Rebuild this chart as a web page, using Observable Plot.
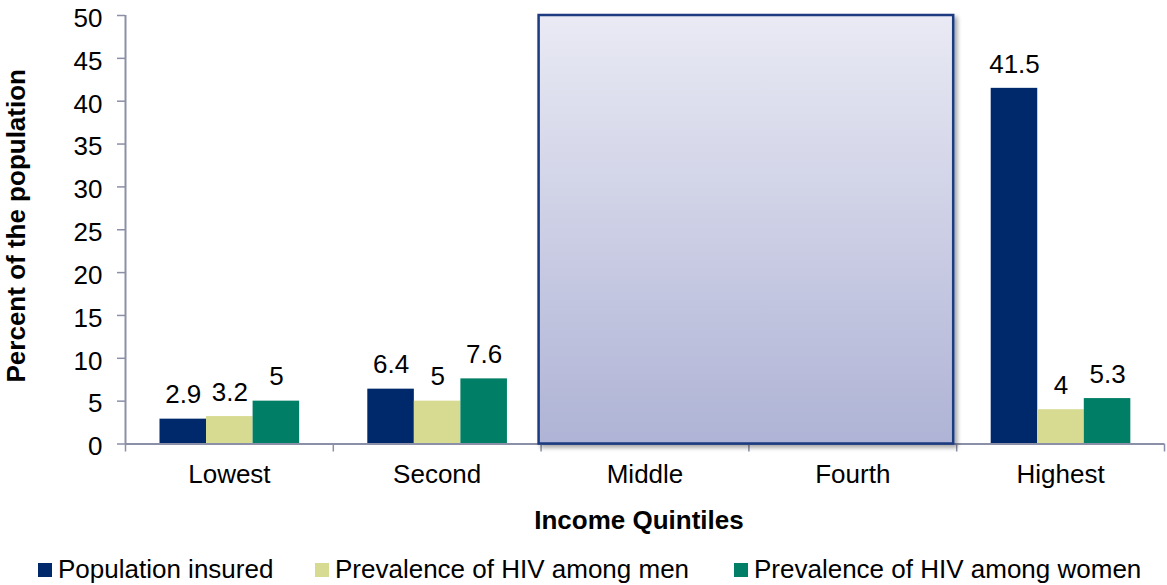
<!DOCTYPE html>
<html><head><meta charset="utf-8">
<script src="https://cdn.jsdelivr.net/npm/d3@7"></script>
<script src="https://cdn.jsdelivr.net/npm/@observablehq/plot@0.6"></script>
<style>
body{margin:0;background:#fff;font-family:"Liberation Sans",Arial,sans-serif;}
#chart{position:relative;width:1167px;height:585px;overflow:hidden;}
#chart svg{display:block;}
.legend{position:absolute;top:540px;left:0;width:1167px;height:45px;}
.item{position:absolute;top:15px;display:flex;align-items:center;font-size:26px;color:#000;white-space:nowrap;line-height:29px;}
.sw{width:14px;height:14px;margin-right:6px;flex:none;}
</style></head><body><div id="chart"></div>
<script>
// ---- data ----
const categories = ["Lowest", "Second", "Middle", "Fourth", "Highest"];
const seriesNames = ["Population insured", "Prevalence of HIV among men", "Prevalence of HIV among women"];
const populationInsured = [2.9, 6.4, null, null, 41.5];
const hivAmongMen = [3.2, 5, null, null, 4];
const hivAmongWomen = [5, 7.6, null, null, 5.3];
const seriesColors = ["#00296b", "#d6db91", "#007e66"];
const yTicks = [0, 5, 10, 15, 20, 25, 30, 35, 40, 45, 50];
const noDataCategories = ["Middle", "Fourth"];
const xTitle = "Income Quintiles";
const yTitle = "Percent of the population";

// ---- table ----
const seriesValues = [populationInsured, hivAmongMen, hivAmongWomen];
const groupStart = 0.166, barW = 0.224;
const rows = [];
categories.forEach((c, ci) => {
  seriesValues.forEach((vals, si) => {
    const v = vals[ci];
    if (v == null) return;
    const x1 = ci + groupStart + si * barW;
    rows.push({category: c, series: seriesNames[si], value: v, label: String(v), x1, x2: x1 + barW, xc: x1 + barW / 2});
  });
});
const yMax = yTicks[yTicks.length - 1];
const boxSpan = [{from: categories.indexOf(noDataCategories[0]), to: categories.indexOf(noDataCategories[noDataCategories.length - 1]) + 1}];

const axisColor = "#8b8fa7";

const gradientDefs = () => {
  const defs = d3.create("svg:defs");
  const g = defs.append("linearGradient").attr("id", "boxGrad")
    .attr("x1", 0).attr("y1", 0).attr("x2", 0).attr("y2", 1);
  g.append("stop").attr("offset", "0%").attr("stop-color", "#e9eaf4");
  g.append("stop").attr("offset", "100%").attr("stop-color", "#afb3d5");
  const f = defs.append("filter").attr("id", "boxShadow")
    .attr("x", "-5%").attr("y", "-5%").attr("width", "115%").attr("height", "115%");
  f.append("feDropShadow").attr("dx", 3).attr("dy", 3).attr("stdDeviation", 2)
    .attr("flood-color", "#000").attr("flood-opacity", 0.35);
  return defs.node();
};

const plot = Plot.plot({
  width: 1167,
  height: 540,
  marginTop: 15,
  marginBottom: 96.5,
  marginLeft: 125,
  marginRight: 3,
  style: {fontFamily: "'Liberation Sans', Arial, sans-serif", fontSize: "26px", color: "#000", background: "#fff"},
  x: {domain: [0, categories.length]},
  y: {domain: [0, yMax]},
  color: {domain: seriesNames, range: seriesColors},
  marks: [
    gradientDefs,
    Plot.rect(rows, {x1: "x1", x2: "x2", y1: 0, y2: "value", fill: "series"}),
    Plot.text(rows, {x: "xc", y: "value", text: "label", dy: -24, fontSize: 26, fill: "#000"}),
    Plot.ruleX([0], {y1: 0, y2: yMax, stroke: axisColor, strokeWidth: 2}),
    Plot.ruleY([0], {stroke: axisColor, strokeWidth: 2}),
    Plot.axisY({ticks: yTicks, tickSize: 8, stroke: axisColor, strokeWidth: 1.5, fill: "none", label: null}),
    Plot.axisY({ticks: yTicks, tickSize: 8, tickPadding: 15, stroke: "none", fill: "#000", dy: 3, fontSize: 26, label: null}),
    Plot.axisX({ticks: d3.range(categories.length + 1), tickSize: 8, stroke: axisColor, strokeWidth: 1.5, fill: "none", label: null, tickFormat: () => ""}),
    Plot.axisX({ticks: categories.map((c, i) => i + 0.5), tickSize: 0, tickPadding: 21, stroke: "none", fill: "#000", fontSize: 26, label: null, tickFormat: (d) => categories[Math.floor(d)]}),
    Plot.rect(boxSpan, {x1: "from", x2: "to", y1: 0, y2: yMax, fill: "url(#boxGrad)", stroke: "#1a3b80", strokeWidth: 2.5, insetLeft: -2, insetRight: 3}),
    Plot.text([yTitle], {frameAnchor: "left", textAnchor: "middle", lineAnchor: "middle", rotate: -90, dx: -108.5, dy: -4, fontWeight: "bold", fontSize: 26, fill: "#000"}),
    Plot.text([xTitle], {frameAnchor: "bottom", textAnchor: "middle", lineAnchor: "middle", dx: -6, dy: 77, fontWeight: "bold", fontSize: 26, fill: "#000"})
  ]
});

d3.select(plot).selectAll("rect").filter(function() { return this.getAttribute("fill") === "url(#boxGrad)"; })
  .attr("filter", "url(#boxShadow)");
d3.select(plot).selectAll("g").filter(function() { return this.getAttribute("fill") === "url(#boxGrad)"; })
  .selectAll("rect").attr("filter", "url(#boxShadow)");

const chart = document.getElementById("chart");
chart.appendChild(plot);

// ---- legend ----
const legend = document.createElement("div");
legend.className = "legend";
const legendLefts = [38, 315, 734];
seriesNames.forEach((name, i) => {
  const item = document.createElement("div");
  item.className = "item";
  item.style.left = legendLefts[i] + "px";
  const sw = document.createElement("span");
  sw.className = "sw";
  sw.style.background = seriesColors[i];
  const t = document.createElement("span");
  t.textContent = name;
  item.appendChild(sw);
  item.appendChild(t);
  legend.appendChild(item);
});
chart.appendChild(legend);
</script>
</body></html>
